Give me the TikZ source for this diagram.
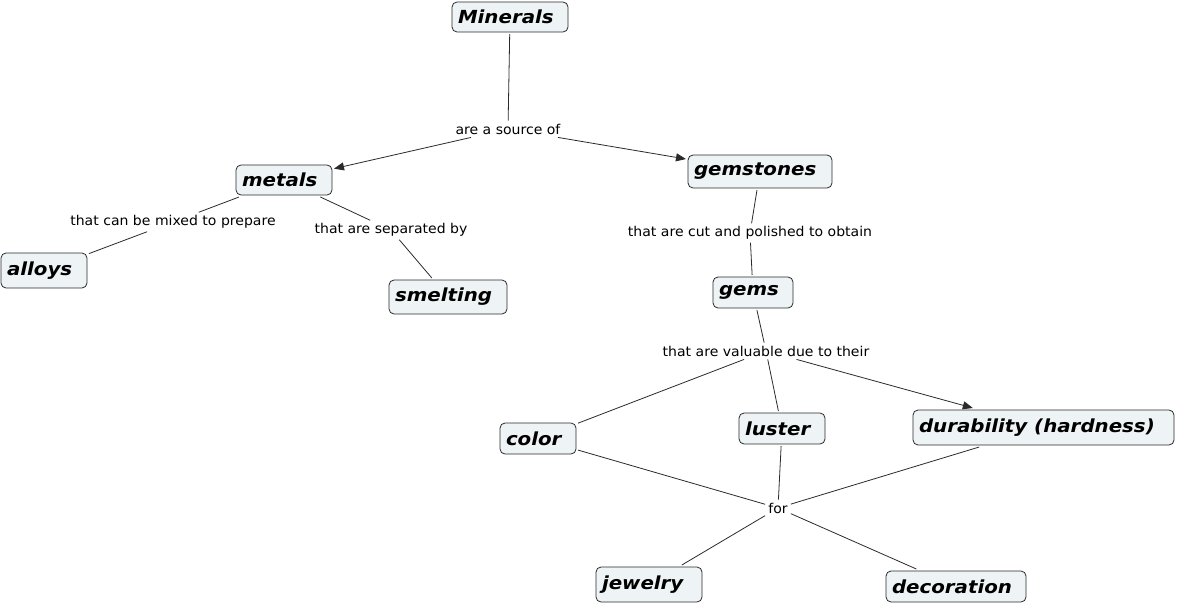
\documentclass[tikz,border=0pt]{standalone}
\usepackage{fontspec}
\setmainfont{DejaVu Sans}
\newfontfamily\boxfont[FakeStretch=1.1]{DejaVu Sans}
\newfontfamily\lblfamily[FakeStretch=1.04]{DejaVu Sans}
\usetikzlibrary{arrows.meta}
\definecolor{boxfill}{HTML}{EEF4F6}
\definecolor{edge}{HTML}{2A2A2A}
\begin{document}
\begin{tikzpicture}[x=1pt,y=-1pt,
  box/.style={draw=edge, fill=boxfill, rounded corners=5pt, line width=0.8pt,
    inner xsep=6pt, inner ysep=0pt, outer sep=2pt,
    font=\boxfont\bfseries\itshape\fontsize{18}{21}\selectfont},
  lbl/.style={inner sep=3pt, font=\lblfamily\fontsize{13.5}{15}\selectfont, text=black},
  conn/.style={draw=edge, line width=0.8pt},
  arr/.style={conn, -{Triangle[length=10pt,width=8pt]}}]
\useasboundingbox (0,0) rectangle (1177,605);
% concept boxes
\node[box, minimum width=116pt, minimum height=30pt] (minerals) at (510,17) {\makebox[104pt][l]{Minerals}};
\node[box, minimum width=96pt, minimum height=30pt] (metals) at (284,180) {\makebox[84pt][l]{metals}};
\node[box, minimum width=144pt, minimum height=33pt] (gemstones) at (760,171.5) {\makebox[132pt][l]{gemstones}};
\node[box, minimum width=86pt, minimum height=35pt] (alloys) at (44,270.5) {\makebox[74pt][l]{alloys}};
\node[box, minimum width=118pt, minimum height=34pt] (smelting) at (448,297) {\makebox[106pt][l]{smelting}};
\node[box, minimum width=80pt, minimum height=31pt] (gems) at (753,292.5) {\makebox[68pt][l]{gems}};
\node[box, minimum width=76pt, minimum height=31pt] (color) at (538,438.5) {\makebox[64pt][l]{color}};
\node[box, minimum width=86pt, minimum height=31pt] (luster) at (782,428.5) {\makebox[74pt][l]{luster}};
\node[box, minimum width=261pt, minimum height=35pt] (durability) at (1043.5,427.5) {\makebox[249pt][l]{durability (hardness)}};
\node[box, minimum width=106pt, minimum height=35pt] (jewelry) at (649,584.5) {\makebox[94pt][l]{jewelry}};
\node[box, minimum width=140pt, minimum height=31pt] (decoration) at (956,586.5) {\makebox[128pt][l]{decoration}};
% linking phrases
\node[lbl] (source) at (508,129) {are a source of};
\node[lbl] (mixed) at (173,222) {that can be mixed to prepare};
\node[lbl] (separated) at (391,230) {that are separated by};
\node[lbl] (cut) at (750,233) {that are cut and polished to obtain};
\node[lbl] (valuable) at (766,351) {that are valuable due to their};
\node[lbl] (for) at (778,508) {for};
% connectors
\draw[conn] (minerals) -- (source);
\draw[arr] (source) -- (metals);
\draw[arr] (source) -- (gemstones);
\draw[conn] (metals) -- (mixed);
\draw[conn] (mixed) -- (alloys);
\draw[conn] (metals) -- (separated);
\draw[conn] (separated) -- (smelting);
\draw[conn] (gemstones) -- (cut);
\draw[conn] (cut) -- (gems);
\draw[conn] (gems) -- (valuable);
\draw[conn] (valuable) -- (color);
\draw[conn] (valuable) -- (luster);
\draw[arr] (valuable) -- (durability);
\draw[conn] (color) -- (for);
\draw[conn] (luster) -- (for);
\draw[conn] (durability) -- (for);
\draw[conn] (for) -- (jewelry);
\draw[conn] (for) -- (decoration);
\end{tikzpicture}
\end{document}
